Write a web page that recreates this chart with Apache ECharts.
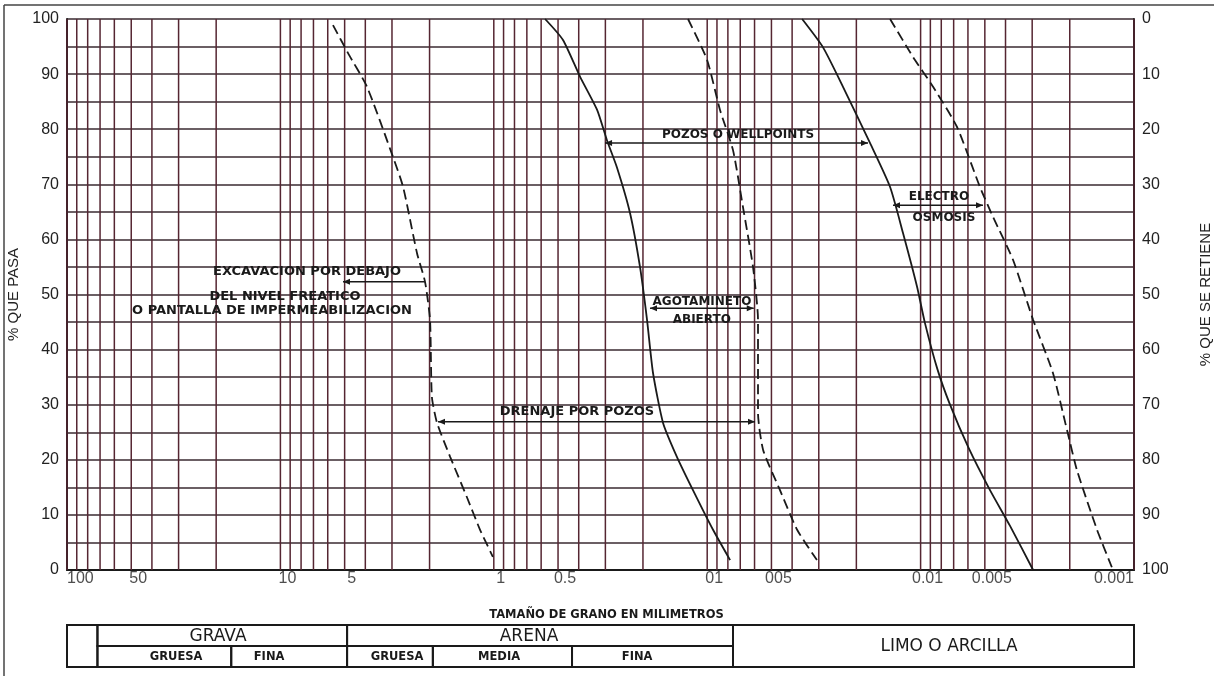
<!DOCTYPE html>
<html><head><meta charset="utf-8">
<script src="https://cdn.jsdelivr.net/npm/echarts@6/dist/echarts.min.js"></script>
<style>html,body{margin:0;padding:0;background:#fff}#c{width:1214px;height:676px}</style>
</head><body><div id="c"></div>
<script>
// ---- tick labels ----
const xTickValues = [100, 50, 10, 5, 1, 0.5, 0.1, 0.05, 0.01, 0.005, 0.001];
const xTickLabels = ['100', '50', '10', '5', '1', '0.5', '01', '005', '0.01', '0.005', '0.001'];
const xGridValues = [100, 90, 80, 70, 60, 50, 40, 30, 20,
  10, 9, 8, 7, 6, 5, 4, 3, 2,
  1, 0.9, 0.8, 0.7, 0.6, 0.5, 0.4, 0.3, 0.2,
  0.1, 0.09, 0.08, 0.07, 0.06, 0.05, 0.04, 0.03, 0.02,
  0.01, 0.009, 0.008, 0.007, 0.006, 0.005, 0.004, 0.003, 0.002, 0.001];

// ---- curves: [grain size mm, % passing] ----
const curveA = [[5.67, 98.9], [4.82, 93.8], [3.93, 87.7], [2.97, 75.0], [2.66, 69.5], [2.29, 57.5], [2.10, 52.3],
  [1.99, 45.4], [1.95, 31.4], [1.845, 26.7], [1.60, 20.5], [1.336, 13.2], [1.16, 7.3], [1.01, 2.4]];
const curveB = [[0.575, 100], [0.474, 96.2], [0.394, 89.5], [0.328, 83.5], [0.295, 78.0], [0.265, 73.1], [0.230, 64.8],
  [0.2065, 55.0], [0.1914, 45.4], [0.1795, 35.8], [0.161, 26.7], [0.1385, 20.5], [0.1166, 14.5], [0.0939, 7.3], [0.0781, 1.8]];
const curveC = [[0.123, 100], [0.1002, 92.6], [0.0871, 83.5], [0.0757, 76.2], [0.068, 65.9], [0.061, 55.0], [0.0578, 45.4],
  [0.0578, 28.5], [0.0547, 21.8], [0.0456, 14.5], [0.0379, 7.3], [0.0306, 1.8]];
const curveD = [[0.0359, 100], [0.0287, 94.9], [0.0231, 87.7], [0.01727, 77.5], [0.0139, 69.5], [0.0121, 61.2], [0.01039, 51.4],
  [0.00954, 44.8], [0.00835, 36.5], [0.00728, 30.0], [0.00598, 22.3], [0.00473, 14.5], [0.00381, 8.0], [0.00297, 0]];
const curveE = [[0.0139, 100], [0.01085, 93.1], [0.00874, 87.7], [0.00675, 80.4], [0.00527, 69.5], [0.00458, 64.1], [0.00369, 56.3],
  [0.00297, 45.4], [0.0024, 35.8], [0.00206, 25.4], [0.00185, 18.1], [0.00149, 7.3], [0.00127, 0.5]];

// ---- annotation arrows: [from mm, to mm, % , head at start, head at end] ----
const arrowPozos = [0.301, 0.01764, 77.5, 1, 1];
const arrowElectro = [0.01347, 0.0051, 66.2, 1, 1];
const arrowAgot = [0.1854, 0.0605, 47.5, 1, 1];
const arrowDrenaje = [1.826, 0.0597, 26.9, 1, 1];
const arrowExcav = [2.1, 5.09, 52.3, 0, 1];

// ---- annotation texts: [mm, %, text] ----
const notePozos = [0.0717, 78.9, 'POZOS O WELLPOINTS'];
const noteElectro1 = [0.0082, 67.7, 'ELECTRO'];
const noteElectro2 = [0.00777, 63.9, 'OSMOSIS'];
const noteAgot1 = [0.1058, 48.6, 'AGOTAMINETO'];
const noteAgot2 = [0.106, 45.4, 'ABIERTO'];
const noteDrenaje = [0.4075, 28.7, 'DRENAJE POR POZOS'];
const noteExcav1 = [7.5, 54.1, 'EXCAVACION POR DEBAJO'];
const noteExcav2 = [9.52, 49.7, 'DEL NIVEL FREATICO'];
const noteExcav3 = [10.95, 47.0, 'O PANTALLA DE IMPERMEABILIZACION'];

// ---- classification table: cells [from mm, to mm, row bottom, row top] ----
const tableCells = [[100, 72, 0, 2], [72, 4.87, 1, 2], [72, 17, 0, 1], [17, 4.87, 0, 1],
  [4.87, 0.0757, 1, 2], [4.87, 1.93, 0, 1], [1.93, 0.43, 0, 1], [0.43, 0.0757, 0, 1], [0.0757, 0.001, 0, 2]];
const tableMain = [[19.6, 1.5, 'GRAVA'], [0.684, 1.5, 'ARENA'], [0.00736, 1, 'LIMO O ARCILLA']];
const tableSub = [[30.8, 0.5, 'GRUESA'], [11.3, 0.5, 'FINA'], [2.84, 0.5, 'GRUESA'], [0.945, 0.5, 'MEDIA'], [0.213, 0.5, 'FINA']];

// ------------------------------------------------------------
const INK = '#1a1a1a';
const GRIDV = '#552632';
const GRIDH = '#3a2a30';
const FONT = '"Liberation Sans", Arial, sans-serif';
const WIDE = '"DejaVu Sans", Verdana, sans-serif';

const arrows = [arrowPozos, arrowElectro, arrowAgot, arrowDrenaje, arrowExcav];
const notes = [notePozos, noteElectro1, noteElectro2, noteAgot1, noteAgot2, noteDrenaje, noteExcav1, noteExcav2, noteExcav3];
const bigNotes = [noteDrenaje, noteExcav1, noteExcav2, noteExcav3];

function head(tip, dir) {
  const L = 7, W = 3;
  return {
    type: 'polygon',
    shape: { points: [[tip[0], tip[1]], [tip[0] - dir * L, tip[1] - W], [tip[0] - dir * L, tip[1] + W]] },
    style: { fill: INK }
  };
}

function curveSeries(name, data, dashed) {
  return {
    name, type: 'line', data, xAxisIndex: 0, yAxisIndex: 0,
    showSymbol: false, smooth: 0.2, z: 5, silent: true,
    lineStyle: { color: INK, width: 1.8, type: dashed ? [10, 5] : 'solid' }
  };
}

const chart = echarts.init(document.getElementById('c'), null, { renderer: 'canvas' });
chart.setOption({
  animation: false,
  backgroundColor: '#ffffff',
  grid: [
    { left: 67, right: 80, top: 19, bottom: 106, containLabel: false, outerBoundsMode: 'none' },
    { left: 67, right: 80, top: 625, height: 42, containLabel: false, outerBoundsMode: 'none' }
  ],
  xAxis: [
    {
      type: 'log', logBase: 10, min: 0.001, max: 100, inverse: true, gridIndex: 0,
      axisLine: { show: true, onZero: false, lineStyle: { color: INK, width: 2 } },
      axisTick: { show: false }, axisLabel: { show: false }, splitLine: { show: false },
      name: 'TAMAÑO DE GRANO EN MILIMETROS', nameLocation: 'middle', nameGap: 39,
      nameTextStyle: { fontFamily: WIDE, fontWeight: 'bold', fontSize: 11.5, color: INK, padding: [0, 0, 0, 12] }
    },
    { type: 'log', logBase: 10, min: 0.001, max: 100, inverse: true, gridIndex: 1, show: false }
  ],
  yAxis: [
    {
      type: 'value', min: 0, max: 100, interval: 5, gridIndex: 0, position: 'left',
      axisLine: { show: true, lineStyle: { color: INK, width: 2 } }, axisTick: { show: false },
      axisLabel: { formatter: v => (v % 10 === 0 ? String(v) : ''), fontFamily: FONT, fontSize: 16, color: '#222', margin: 8 },
      splitLine: { show: true, lineStyle: { color: GRIDH, width: 1.6 } },
      name: '% QUE PASA', nameLocation: 'middle', nameRotate: 90, nameGap: 46,
      nameTextStyle: { fontFamily: FONT, fontSize: 15, color: '#222' }
    },
    {
      type: 'value', min: 0, max: 100, interval: 5, gridIndex: 0, position: 'right', inverse: true,
      axisLine: { show: true, lineStyle: { color: INK, width: 2 } }, axisTick: { show: false },
      axisLabel: { formatter: v => (v % 10 === 0 ? String(v) : ''), fontFamily: FONT, fontSize: 16, color: '#222', margin: 8 },
      splitLine: { show: false },
      name: '% QUE SE RETIENE', nameLocation: 'middle', nameRotate: 90, nameGap: 64,
      nameTextStyle: { fontFamily: FONT, fontSize: 15, color: '#222' }
    },
    { type: 'value', min: 0, max: 2, gridIndex: 1, show: false }
  ],
  graphic: [
    { type: 'line', shape: { x1: 4, y1: 5, x2: 1214, y2: 5 }, style: { stroke: '#444', lineWidth: 1.5 } },
    { type: 'line', shape: { x1: 4, y1: 5, x2: 4, y2: 676 }, style: { stroke: '#444', lineWidth: 1.5 } }
  ],
  series: [
    {
      name: 'vgrid', type: 'custom', xAxisIndex: 0, yAxisIndex: 0, silent: true, z: 1,
      data: xGridValues.map(v => [v, 0]),
      renderItem: (p, api) => {
        const v = api.value(0);
        const a = api.coord([v, 0]), b = api.coord([v, 100]);
        return { type: 'line', shape: { x1: a[0], y1: a[1], x2: b[0], y2: b[1] }, style: { stroke: GRIDV, lineWidth: 1.5 } };
      }
    },
    curveSeries('A', curveA, true),
    curveSeries('B', curveB, false),
    curveSeries('C', curveC, true),
    curveSeries('D', curveD, false),
    curveSeries('E', curveE, true),
    {
      name: 'arrows', type: 'custom', xAxisIndex: 0, yAxisIndex: 0, silent: true, z: 6,
      data: arrows.map(a => [a[0], a[2]]),
      renderItem: (p, api) => {
        const a = arrows[p.dataIndex];
        const s = api.coord([a[0], a[2]]), e = api.coord([a[1], a[2]]);
        const dir = e[0] > s[0] ? 1 : -1;
        const children = [{ type: 'line', shape: { x1: s[0], y1: s[1], x2: e[0], y2: e[1] }, style: { stroke: INK, lineWidth: 1.5 } }];
        if (a[3]) children.push(head(s, -dir));
        if (a[4]) children.push(head(e, dir));
        return { type: 'group', children };
      }
    },
    {
      name: 'notes', type: 'custom', xAxisIndex: 0, yAxisIndex: 0, silent: true, z: 7,
      data: notes.map(n => [n[0], n[1]]),
      renderItem: (p, api) => {
        const n = notes[p.dataIndex];
        const c = api.coord([n[0], n[1]]);
        const size = bigNotes.indexOf(n) >= 0 ? 13 : 12;
        return {
          type: 'text', x: c[0], y: c[1],
          style: { text: n[2], fill: '#1a1a1a', font: 'bold ' + size + 'px ' + WIDE, align: 'center', verticalAlign: 'middle', textAlign: 'center', textVerticalAlign: 'middle' }
        };
      }
    },
    {
      name: 'xlabels', type: 'scatter', xAxisIndex: 0, yAxisIndex: 0, symbolSize: 0, silent: true, z: 8,
      data: xTickValues.map((v, i) => ({
        value: [v, 0],
        label: {
          formatter: xTickLabels[i],
          align: i === 0 ? 'left' : (i === xTickValues.length - 1 ? 'right' : 'center'),
          offset: i === 0 || i === xTickValues.length - 1 ? [0, 0] : [7, 0]
        }
      })),
      label: { show: true, position: 'bottom', distance: 1, fontFamily: FONT, fontSize: 16, color: '#222' }
    },
    {
      name: 'table', type: 'custom', xAxisIndex: 1, yAxisIndex: 2, silent: true, z: 5,
      data: tableCells.map(c => [c[0], c[2]]),
      renderItem: (p, api) => {
        const c = tableCells[p.dataIndex];
        const a = api.coord([c[0], c[3]]), b = api.coord([c[1], c[2]]);
        return { type: 'rect', shape: { x: a[0], y: a[1], width: b[0] - a[0], height: b[1] - a[1] }, style: { fill: 'none', stroke: INK, lineWidth: 2 } };
      }
    },
    {
      name: 'tableMain', type: 'custom', xAxisIndex: 1, yAxisIndex: 2, silent: true, z: 6,
      data: tableMain.map(t => [t[0], t[1]]),
      renderItem: (p, api) => {
        const t = tableMain[p.dataIndex];
        const c = api.coord([t[0], t[1]]);
        return { type: 'text', x: c[0], y: c[1] + 1, style: { text: t[2], fill: '#1a1a1a', font: '17px ' + WIDE, align: 'center', verticalAlign: 'middle', textAlign: 'center', textVerticalAlign: 'middle' } };
      }
    },
    {
      name: 'tableSub', type: 'custom', xAxisIndex: 1, yAxisIndex: 2, silent: true, z: 6,
      data: tableSub.map(t => [t[0], t[1]]),
      renderItem: (p, api) => {
        const t = tableSub[p.dataIndex];
        const c = api.coord([t[0], t[1]]);
        return { type: 'text', x: c[0], y: c[1] + 1, style: { text: t[2], fill: '#1a1a1a', font: 'bold 11.5px ' + WIDE, align: 'center', verticalAlign: 'middle', textAlign: 'center', textVerticalAlign: 'middle' } };
      }
    }
  ]
});
</script></body></html>
